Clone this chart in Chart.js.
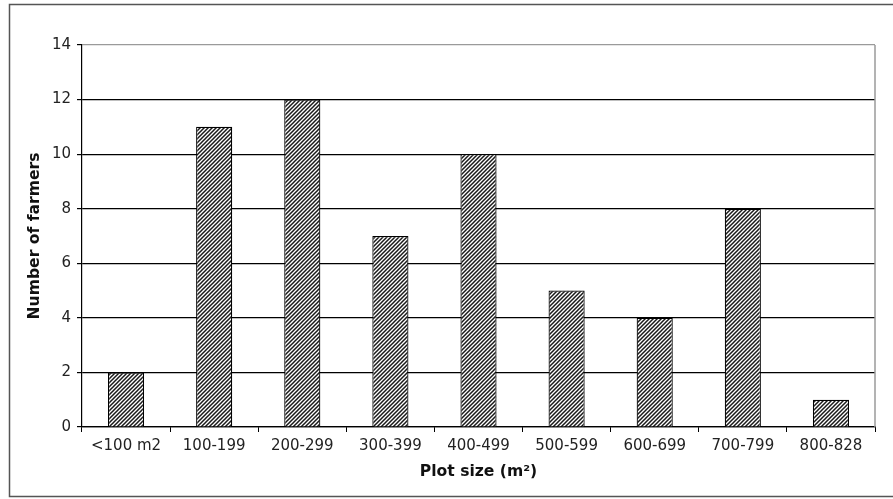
<!DOCTYPE html>
<html>
<head>
<meta charset="utf-8">
<script src="https://cdn.jsdelivr.net/npm/chart.js@4/dist/chart.umd.min.js"></script>
<style>
  html, body { margin: 0; padding: 0; background: #fff; }
  #wrap { width: 893px; height: 499px; }
</style>
</head>
<body>
<div id="wrap"><canvas id="c" width="893" height="499"></canvas></div>
<script>
// Farmers by plot size class
const categories = ['<100 m2', '100-199', '200-299', '300-399', '400-499', '500-599', '600-699', '700-799', '800-828'];
const farmers = [2, 11, 12, 7, 10, 5, 4, 8, 1];
const yTicks = [0, 2, 4, 6, 8, 10, 12, 14];

// Diagonal hatch fill for the bars
function makeHatch() {
  const s = 4;
  const p = document.createElement('canvas');
  p.width = s; p.height = s;
  const g = p.getContext('2d');
  g.fillStyle = '#ffffff';
  g.fillRect(0, 0, s, s);
  g.strokeStyle = '#1a1a1a';
  g.lineWidth = 1.5;
  g.beginPath();
  g.moveTo(-1, s + 1); g.lineTo(s + 1, -1);
  g.moveTo(-1, 1); g.lineTo(1, -1);
  g.moveTo(s - 1, s + 1); g.lineTo(s + 1, s - 1);
  g.stroke();
  return document.getElementById('c').getContext('2d').createPattern(p, 'repeat');
}

// Outer frame and the grey right edge of the plot area
const framePlugin = {
  id: 'frame',
  beforeDatasetsDraw(chart) {
    const { ctx, chartArea } = chart;
    ctx.save();
    ctx.strokeStyle = '#9a9a9a';
    ctx.lineWidth = 1.5;
    ctx.beginPath();
    ctx.moveTo(chartArea.right, chartArea.top);
    ctx.lineTo(chartArea.right, chartArea.bottom);
    ctx.stroke();
    ctx.restore();
  },
  afterDraw(chart) {
    const { ctx } = chart;
    ctx.save();
    ctx.strokeStyle = '#555555';
    ctx.lineWidth = 1.5;
    ctx.beginPath();
    ctx.moveTo(900, 4.5);
    ctx.lineTo(9.5, 4.5);
    ctx.lineTo(9.5, 496.5);
    ctx.lineTo(900, 496.5);
    ctx.stroke();
    ctx.restore();
  }
};

const tickFont = { family: 'DejaVu Sans', size: 15 };
const titleFont = { family: 'DejaVu Sans', size: 15.6, weight: 'bold' };

new Chart(document.getElementById('c'), {
  type: 'bar',
  data: {
    labels: categories,
    datasets: [{
      data: farmers,
      backgroundColor: makeHatch(),
      borderColor: '#000000',
      borderWidth: 1.2,
      categoryPercentage: 1,
      barPercentage: 0.41
    }]
  },
  options: {
    responsive: false,
    animation: false,
    devicePixelRatio: 1,
    layout: { padding: { left: 0, top: 45, right: 18, bottom: 0 } },
    plugins: { legend: { display: false }, tooltip: { enabled: false } },
    scales: {
      x: {
        grid: {
          offset: true,
          drawOnChartArea: false,
          drawTicks: true,
          tickLength: 5,
          color: '#000000',
          tickColor: '#000000',
          lineWidth: 1
        },
        border: { color: '#000000', width: 1.2 },
        ticks: { color: '#222222', font: tickFont, padding: 5, maxRotation: 0 },
        title: {
          display: true,
          text: 'Plot size (m²)',
          color: '#111111',
          font: titleFont,
          padding: { top: 0, bottom: 18 }
        },
        afterFit(scale) { scale.height = 72; }
      },
      y: {
        min: 0,
        max: 14,
        afterBuildTicks(scale) { scale.ticks = yTicks.map(v => ({ value: v })); },
        grid: {
          color: ctx => (ctx.tick && ctx.tick.value === 14 ? '#9a9a9a' : '#000000'),
          tickColor: '#000000',
          tickLength: 5,
          lineWidth: 1.2
        },
        border: { color: '#000000', width: 1.2 },
        ticks: { color: '#222222', font: tickFont, padding: 6 },
        title: {
          display: true,
          text: 'Number of farmers',
          color: '#111111',
          font: titleFont,
          padding: { top: 26, bottom: 0 }
        },
        afterFit(scale) { scale.width = 82; }
      }
    }
  },
  plugins: [framePlugin]
});
</script>
</body>
</html>
